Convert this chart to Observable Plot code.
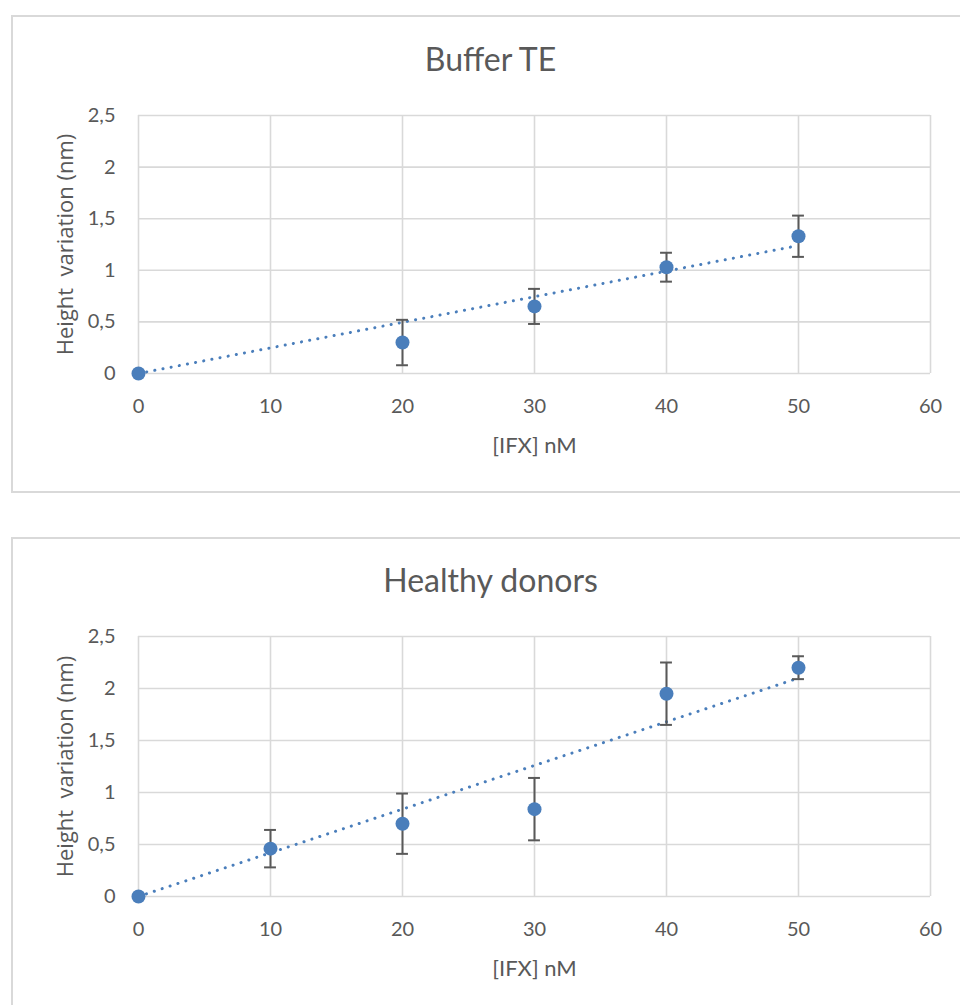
<!DOCTYPE html>
<html>
<head>
<meta charset="utf-8">
<script src="https://cdn.jsdelivr.net/npm/d3@7"></script>
<script src="https://cdn.jsdelivr.net/npm/@observablehq/plot@0.6"></script>
<style>
  html, body { margin: 0; padding: 0; background: #fff; width: 960px; height: 1005px; overflow: hidden; }
  .box { position: absolute; border: 2px solid #d9d9d9; border-right: none; box-sizing: border-box; }
  .panel { position: absolute; left: 0; }
</style>
</head>
<body>
<div class="box" style="left:11px; top:15px; width:960px; height:478px;"></div>
<div class="box" style="left:11px; top:537px; width:960px; height:500px;"></div>
<div id="p1" class="panel" style="top:0px;"></div>
<div id="p2" class="panel" style="top:500px;"></div>
<script>
// ---- data ----
const xTicks = [0, 10, 20, 30, 40, 50, 60];
const yTicks = [0, 0.5, 1, 1.5, 2, 2.5];

const bufferTitle = "Buffer TE";
const bufferX = [0, 20, 30, 40, 50];
const bufferY = [0, 0.30, 0.65, 1.03, 1.33];
const bufferErr = [0, 0.22, 0.17, 0.14, 0.20];
const bufferTrendX = [0, 50];
const bufferTrendY = [0, 1.24];

const donorsTitle = "Healthy donors";
const donorsX = [0, 10, 20, 30, 40, 50];
const donorsY = [0, 0.46, 0.70, 0.84, 1.95, 2.20];
const donorsErr = [0, 0.18, 0.29, 0.30, 0.30, 0.11];
const donorsTrendX = [0, 50];
const donorsTrendY = [0, 2.10];

const xLabel = "[IFX] nM";
const yLabel = "Height  variation (nm)";

const blue = "#4A7EBB";
const grey = "#595959";
const gridCol = "#d9d9d9";

function panel(title, xs, ys, errs, tx, ty, height, marginTop, marginBottom) {
  const pts = xs.map((x, i) => ({x, y: ys[i], e: errs[i]}));
  const bars = pts.filter(d => d.e > 0);
  const trend = tx.map((x, i) => ({x, y: ty[i]}));
  const capHalf = 0.45; // in x units
  return Plot.plot({
    width: 960,
    height,
    marginLeft: 138,
    marginRight: 30,
    marginTop,
    marginBottom,
    style: {background: "transparent", fontFamily: "Lato, sans-serif", fontSize: "20px", color: grey, overflow: "visible"},
    x: {domain: [0, 60], ticks: xTicks, label: null},
    y: {domain: [0, 2.5], ticks: yTicks, label: null},
    marks: [
      Plot.gridX(xTicks, {stroke: gridCol, strokeOpacity: 1, strokeWidth: 1.6}),
      Plot.gridY(yTicks, {stroke: gridCol, strokeOpacity: 1, strokeWidth: 1.6}),
      Plot.axisX(xTicks, {tickSize: 0, tickPadding: 25, fill: grey, fontSize: 20, tickFormat: d => String(d)}),
      Plot.axisY(yTicks, {tickSize: 0, tickPadding: 23, fill: grey, fontSize: 20, tickFormat: d => String(d).replace(".", ",")}),
      Plot.line(trend, {x: "x", y: "y", stroke: blue, strokeWidth: 3, strokeDasharray: "0.1 8.2", strokeLinecap: "round"}),
      Plot.ruleX(bars, {x: "x", y1: d => d.y - d.e, y2: d => d.y + d.e, stroke: grey, strokeWidth: 2}),
      Plot.ruleY(bars, {y: d => d.y + d.e, x1: d => d.x - capHalf, x2: d => d.x + capHalf, stroke: grey, strokeWidth: 2}),
      Plot.ruleY(bars, {y: d => d.y - d.e, x1: d => d.x - capHalf, x2: d => d.x + capHalf, stroke: grey, strokeWidth: 2}),
      Plot.dot(pts, {x: "x", y: "y", r: 7, fill: blue, stroke: null}),
      Plot.text([title], {frameAnchor: "top", dy: -67, dx: -44, text: d => d, fontSize: 32, fill: grey, fontFamily: "Lato, sans-serif"}),
      Plot.text([xLabel], {frameAnchor: "bottom", dy: 79, text: d => d, fontSize: 22, fill: grey, fontFamily: "Lato, sans-serif"}),
      Plot.text([yLabel], {frameAnchor: "left", textAnchor: "middle", dx: -73, rotate: -90, text: d => d, fontSize: 22, fill: grey, fontFamily: "'Open Sans', sans-serif"})
    ]
  });
}

document.getElementById("p1").appendChild(
  panel(bufferTitle, bufferX, bufferY, bufferErr, bufferTrendX, bufferTrendY, 500, 115, 127)
);
document.getElementById("p2").appendChild(
  panel(donorsTitle, donorsX, donorsY, donorsErr, donorsTrendX, donorsTrendY, 505, 136, 109)
);
</script>
</body>
</html>
